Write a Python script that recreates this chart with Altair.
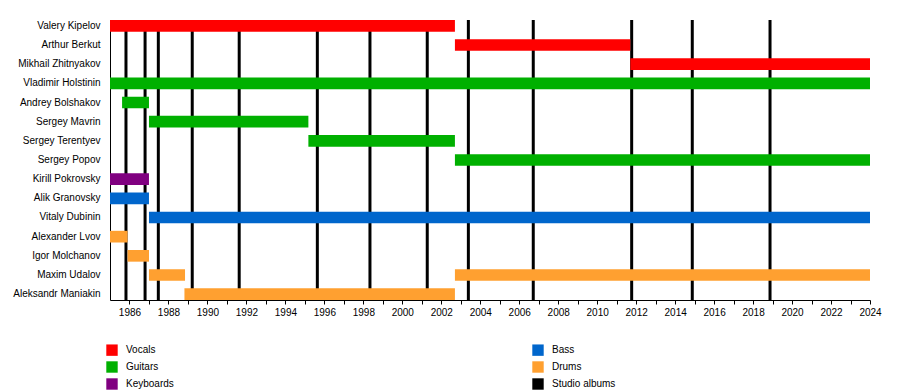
import altair as alt
import pandas as pd

# Row order (top to bottom)
names = [
    "Valery Kipelov", "Arthur Berkut", "Mikhail Zhitnyakov", "Vladimir Holstinin",
    "Andrey Bolshakov", "Sergey Mavrin", "Sergey Terentyev", "Sergey Popov",
    "Kirill Pokrovsky", "Alik Granovsky", "Vitaly Dubinin", "Alexander Lvov",
    "Igor Molchanov", "Maxim Udalov", "Aleksandr Maniakin",
]

# Membership periods
bar_member = [
    "Valery Kipelov", "Arthur Berkut", "Mikhail Zhitnyakov", "Vladimir Holstinin",
    "Andrey Bolshakov", "Sergey Mavrin", "Sergey Terentyev", "Sergey Popov",
    "Kirill Pokrovsky", "Alik Granovsky", "Vitaly Dubinin", "Alexander Lvov",
    "Igor Molchanov", "Maxim Udalov", "Maxim Udalov", "Aleksandr Maniakin",
]
bar_start = [1985.0, 2002.7, 2011.7, 1985.0,
             1985.62, 1987.0, 1995.18, 2002.7,
             1985.0, 1985.0, 1987.0, 1985.0,
             1985.9, 1987.0, 2002.7, 1988.82]
bar_end = [2002.7, 2011.7, 2024.0, 2024.0,
           1987.0, 1995.18, 2002.7, 2024.0,
           1987.0, 1987.0, 2024.0, 1985.9,
           1987.0, 1988.85, 2024.0, 2002.7]
bar_role = ["Vocals", "Vocals", "Vocals", "Guitars",
            "Guitars", "Guitars", "Guitars", "Guitars",
            "Keyboards", "Bass", "Bass", "Drums",
            "Drums", "Drums", "Drums", "Drums"]

# Studio album release dates
album_years = [1985.82, 1986.80, 1987.48, 1989.22, 1991.63, 1995.64, 1998.34,
               2001.28, 2003.39, 2006.72, 2011.77, 2014.88, 2018.87]

# Legend
legend_order = ["Vocals", "Guitars", "Keyboards", "Bass", "Drums", "Studio albums"]
legend_colors = ["#FF0000", "#00B000", "#800080", "#0066CC", "#FFA030", "#000000"]

tick_years = list(range(1986, 2025))

df = pd.DataFrame({"member": bar_member, "start": bar_start, "end": bar_end, "role": bar_role})
albums = pd.DataFrame({"year": album_years})

x_scale = alt.Scale(domain=[1985, 2024], nice=False, zero=False)
x_axis = alt.Axis(values=tick_years, format="d",
                  labelExpr="datum.value % 2 == 0 ? datum.label : ''",
                  tickSize=4, labelPadding=3, labelFlush=False, domain=True)

rules = alt.Chart(albums).mark_rule(color="black", strokeWidth=3).encode(
    x=alt.X("year:Q", scale=x_scale, title=None, axis=x_axis),
)

bars = alt.Chart(df).mark_bar(opacity=1).encode(
    x=alt.X("start:Q", scale=x_scale, title=None, axis=x_axis),
    x2="end:Q",
    y=alt.Y("member:N", sort=names, title=None,
            scale=alt.Scale(paddingInner=0.39, paddingOuter=0),
            axis=alt.Axis(ticks=False, labelPadding=10)),
    color=alt.Color("role:N",
                    scale=alt.Scale(domain=legend_order, range=legend_colors),
                    legend=alt.Legend(title=None, orient="none", legendX=-4, legendY=324,
                                      columns=2, columnPadding=358, rowPadding=5,
                                      symbolType="square", symbolSize=130,
                                      symbolStrokeWidth=0, labelOffset=8,
                                      labelFontSize=10, labelFont="Liberation Sans",
                                      labelColor="black")),
)

chart = alt.layer(rules, bars).properties(
    width=760, height=280,
    autosize="none",
    padding={"left": 102, "top": 12, "right": 20, "bottom": 90},
).configure_axis(
    labelFont="Liberation Sans", labelFontSize=10, labelColor="black",
    domainColor="black", tickColor="black", grid=False,
).configure_view(stroke=None)

chart.save("out.html", embed_options={"renderer": "svg", "actions": False})
